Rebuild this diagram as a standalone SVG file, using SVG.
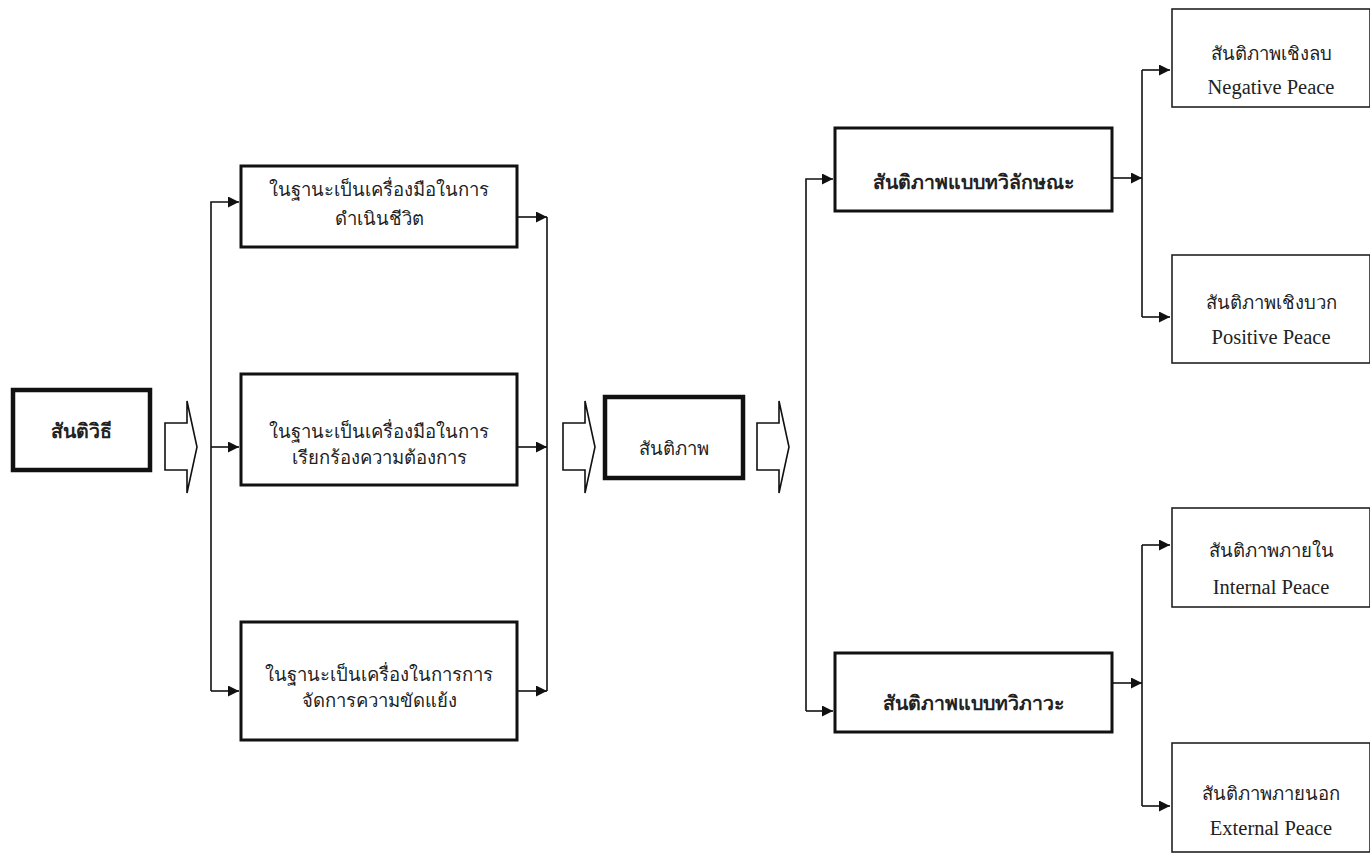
<svg xmlns="http://www.w3.org/2000/svg" width="1370" height="854" viewBox="0 0 1370 854">
<style>
.bg{fill:#fff}
.thick{fill:#fff;stroke:#111;stroke-width:4.5}
.mid{fill:#fff;stroke:#111;stroke-width:3}
.thin{fill:#fff;stroke:#222;stroke-width:1.6}
.conn{fill:none;stroke:#111;stroke-width:1.6}
.blk{fill:#fff;stroke:#111;stroke-width:1.6;stroke-linejoin:miter}
text{font-family:"Liberation Serif","Times New Roman",serif;fill:#222;text-anchor:middle}
.th{font-size:18.5px}
.thb{font-size:19.5px;font-weight:bold}
.en{font-size:20.5px}
</style>
<defs>
<marker id="ah" markerWidth="12" markerHeight="12" refX="11" refY="5.5" orient="auto" markerUnits="userSpaceOnUse">
<path d="M0,0 L11,5.5 L0,11 z" fill="#111"/>
</marker>
</defs>
<rect class="bg" width="1370" height="854"/>

<g id="connectors">
<path class="conn" d="M211,691 V202 H239" marker-end="url(#ah)"/>
<path class="conn" d="M211,447 H239" marker-end="url(#ah)"/>
<path class="conn" d="M211,691 H239" marker-end="url(#ah)"/>
<path class="conn" d="M517,217 H547" marker-end="url(#ah)"/>
<path class="conn" d="M517,447 H547" marker-end="url(#ah)"/>
<path class="conn" d="M517,691 H547" marker-end="url(#ah)"/>
<path class="conn" d="M547,217 V691"/>
<path class="conn" d="M806,711 V179 H833" marker-end="url(#ah)"/>
<path class="conn" d="M806,711 H833" marker-end="url(#ah)"/>
<path class="conn" d="M1112,178 H1142" marker-end="url(#ah)"/>
<path class="conn" d="M1142,70 V317"/>
<path class="conn" d="M1142,70 H1170" marker-end="url(#ah)"/>
<path class="conn" d="M1142,317 H1170" marker-end="url(#ah)"/>
<path class="conn" d="M1112,683 H1142" marker-end="url(#ah)"/>
<path class="conn" d="M1142,545 V806"/>
<path class="conn" d="M1142,545 H1170" marker-end="url(#ah)"/>
<path class="conn" d="M1142,806 H1170" marker-end="url(#ah)"/>
<path class="blk" d="M165,423 H187 V401 L197,447 L187,493 V470 H165 Z"/>
<path class="blk" d="M563,423 H585 V401 L595,447 L585,493 V470 H563 Z"/>
<path class="blk" d="M757,423 H779 V401 L789,447 L779,493 V470 H757 Z"/>
</g>

<g id="n-santiwithi">
<rect class="thick" x="13" y="390" width="137" height="80"/>
<text class="thb" x="81.5" y="438">สันติวิธี</text>
</g>
<g id="n-tool-life">
<rect class="mid" x="241" y="166" width="276" height="81"/>
<text class="th" x="379" y="196">ในฐานะเป็นเครื่องมือในการ</text>
<text class="th" x="379" y="225">ดำเนินชีวิต</text>
</g>
<g id="n-tool-demand">
<rect class="mid" x="241" y="374" width="276" height="111"/>
<text class="th" x="379" y="438">ในฐานะเป็นเครื่องมือในการ</text>
<text class="th" x="379" y="464">เรียกร้องความต้องการ</text>
</g>
<g id="n-tool-conflict">
<rect class="mid" x="241" y="622" width="276" height="118"/>
<text class="th" x="379" y="681">ในฐานะเป็นเครื่องในการการ</text>
<text class="th" x="379" y="707">จัดการความขัดแย้ง</text>
</g>
<g id="n-santiphap">
<rect class="thick" x="605" y="397" width="138" height="81"/>
<text class="th" x="674" y="455">สันติภาพ</text>
</g>
<g id="n-dual-char">
<rect class="mid" x="835" y="128" width="277" height="83"/>
<text class="thb" x="973" y="189">สันติภาพแบบทวิลักษณะ</text>
</g>
<g id="n-dual-state">
<rect class="mid" x="835" y="653" width="277" height="79"/>
<text class="thb" x="973" y="710">สันติภาพแบบทวิภาวะ</text>
</g>
<g id="n-negative">
<rect class="thin" x="1172" y="9" width="198" height="98"/>
<text class="th" x="1271" y="60">สันติภาพเชิงลบ</text>
<text class="en" x="1271" y="94">Negative Peace</text>
</g>
<g id="n-positive">
<rect class="thin" x="1172" y="255" width="198" height="108"/>
<text class="th" x="1271" y="309">สันติภาพเชิงบวก</text>
<text class="en" x="1271" y="344">Positive Peace</text>
</g>
<g id="n-internal">
<rect class="thin" x="1172" y="508" width="198" height="99"/>
<text class="th" x="1271" y="557">สันติภาพภายใน</text>
<text class="en" x="1271" y="594">Internal Peace</text>
</g>
<g id="n-external">
<rect class="thin" x="1172" y="743" width="198" height="109"/>
<text class="th" x="1271" y="800">สันติภาพภายนอก</text>
<text class="en" x="1271" y="835">External Peace</text>
</g>
</svg>
